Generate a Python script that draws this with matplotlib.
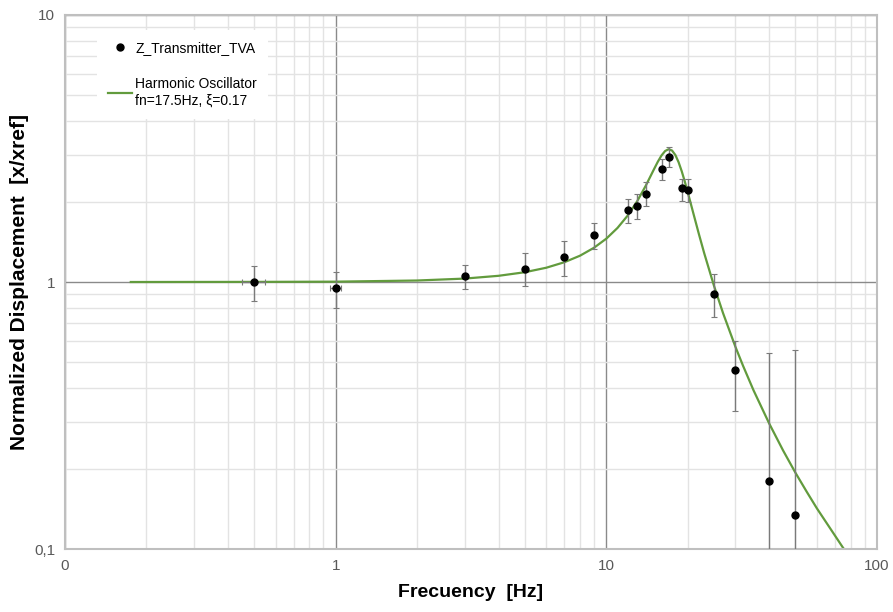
import matplotlib
matplotlib.use("Agg")
import matplotlib.pyplot as plt
from matplotlib.ticker import FixedLocator, FixedFormatter, LogLocator, NullFormatter

plt.rcParams['font.family'] = ['Liberation Sans', 'DejaVu Sans']

freq = [0.5, 1, 3, 5, 7, 9, 12, 13, 14, 16, 17, 19, 20, 25, 30, 40, 50]
disp = [1.00, 0.95, 1.05, 1.12, 1.24, 1.50, 1.86, 1.93, 2.14, 2.64, 2.95,
        2.24, 2.21, 0.90, 0.47, 0.18, 0.134]
err_lo = [0.15, 0.15, 0.11, 0.15, 0.19, 0.17, 0.19, 0.21, 0.21, 0.23, 0.25,
          0.23, 0.22, 0.16, 0.14, 0.18, 0.134]
err_hi = [0.15, 0.14, 0.11, 0.16, 0.19, 0.17, 0.19, 0.20, 0.22, 0.24, 0.24,
          0.19, 0.22, 0.17, 0.13, 0.36, 0.42]
freq_err = [0.05] * len(freq)

# harmonic oscillator curve (fn=17.5Hz, xi=0.17)
fit_freq = [0.175, 0.5, 1, 2, 3, 4, 5, 6, 7, 8, 9, 10, 11, 12, 13, 14, 15,
            15.5, 16, 16.5, 17, 17.5, 18, 18.5, 19, 19.5, 20, 21, 22, 23, 25,
            27, 30, 32, 35, 40, 45, 50, 55, 60, 67, 75, 80]
fit_disp = [1.000, 1.001, 1.003, 1.013, 1.030, 1.055, 1.088, 1.131, 1.186,
            1.255, 1.343, 1.453, 1.594, 1.774, 2.005, 2.297, 2.643, 2.820,
            2.979, 3.095, 3.143, 3.107, 2.989, 2.810, 2.599, 2.380, 2.169,
            1.800, 1.509, 1.283, 0.968, 0.765, 0.572, 0.486, 0.393, 0.295,
            0.234, 0.193, 0.164, 0.142, 0.120, 0.101, 0.093]

fig = plt.figure(figsize=(8.93, 6.12), dpi=100)
ax = fig.add_axes([0.0728, 0.1029, 0.9092, 0.8726])
ax.set_xscale('log')
ax.set_yscale('log')
ax.set_xlim(0.1, 100)
ax.set_ylim(0.1, 10)

ax.errorbar(freq, disp, yerr=[err_lo, err_hi], xerr=freq_err, fmt='none',
            ecolor='#7a7a7a', elinewidth=1.0, capsize=2.5, capthick=0.8, zorder=3)
ax.plot(freq, disp, 'o', color='black', markersize=5, linestyle='none',
        label='Z_Transmitter_TVA', zorder=4)
ax.plot(fit_freq, fit_disp, color='#629b3d', linewidth=1.6,
        label='Harmonic Oscillator\nfn=17.5Hz, ξ=0.17', zorder=2)

# ticks / grid
ax.xaxis.set_major_locator(FixedLocator([0.1, 1, 10, 100]))
ax.xaxis.set_major_formatter(FixedFormatter(['0', '1', '10', '100']))
ax.yaxis.set_major_locator(FixedLocator([0.1, 1, 10]))
ax.yaxis.set_major_formatter(FixedFormatter(['0,1', '1', '10']))
for axis in (ax.xaxis, ax.yaxis):
    axis.set_minor_locator(LogLocator(base=10, subs=range(2, 10)))
    axis.set_minor_formatter(NullFormatter())
ax.grid(which='major', color='#8a8a8a', linewidth=1.0)
ax.grid(which='minor', color='#e3e3e3', linewidth=1.0)
ax.set_axisbelow(True)
ax.tick_params(which='both', length=0, labelsize=11, labelcolor='#595959')
ax.tick_params(axis='x', pad=7)
ax.tick_params(axis='y', pad=7)
for s in ax.spines.values():
    s.set_color('#bfbfbf')
    s.set_linewidth(1.5)

ax.set_xlabel('Frecuency  [Hz]', fontsize=14, fontweight='bold', labelpad=8)
ax.set_ylabel('Normalized Displacement  [x/xref]', fontsize=15, fontweight='bold', labelpad=4)

leg = ax.legend(loc='upper left', bbox_to_anchor=(0.031, 0.985), fontsize=10,
                frameon=True, fancybox=False, framealpha=1, edgecolor='none',
                facecolor='white', handlelength=1.7, handletextpad=0.25,
                labelspacing=1.6, borderpad=0.8)

fig.savefig('out.png', dpi=100)
